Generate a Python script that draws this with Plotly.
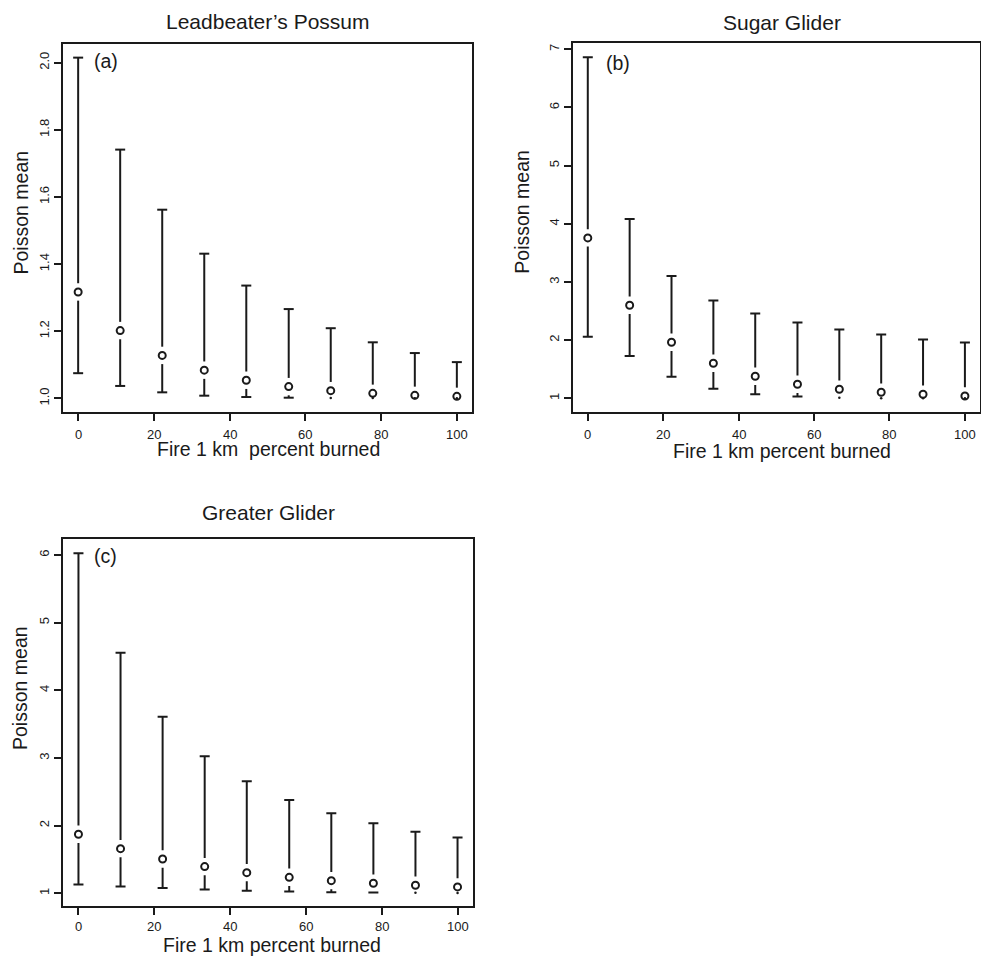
import plotly.graph_objects as go

W, H = 981, 964

# ---- data ----
x_burned = [0, 11.1, 22.2, 33.3, 44.4, 55.6, 66.7, 77.8, 88.9, 100]

lp_mean  = [1.317, 1.202, 1.128, 1.084, 1.054, 1.035, 1.023, 1.015, 1.009, 1.006]
lp_lower = [1.075, 1.037, 1.018, 1.008, 1.004, 1.002, 1.001, 1.001, 1.000, 1.000]
lp_upper = [2.015, 1.741, 1.562, 1.431, 1.336, 1.266, 1.209, 1.167, 1.135, 1.108]

sg_mean  = [3.757, 2.599, 1.963, 1.602, 1.378, 1.241, 1.155, 1.103, 1.069, 1.040]
sg_lower = [2.060, 1.728, 1.372, 1.166, 1.069, 1.029, 1.010, 1.002, 1.000, 0.999]
sg_upper = [6.862, 4.083, 3.103, 2.679, 2.456, 2.301, 2.181, 2.095, 2.009, 1.957]

gg_mean  = [1.872, 1.660, 1.507, 1.394, 1.305, 1.236, 1.187, 1.148, 1.118, 1.094]
gg_lower = [1.128, 1.100, 1.079, 1.056, 1.039, 1.027, 1.017, 1.012, 1.009, 1.005]
gg_upper = [6.025, 4.557, 3.611, 3.025, 2.655, 2.379, 2.182, 2.034, 1.911, 1.823]

titles = ["Leadbeater\u2019s Possum", "Sugar Glider", "Greater Glider"]
panel_tags = ["(a)", "(b)", "(c)"]
x_titles = ["Fire 1 km\u00a0 percent burned", "Fire 1 km percent burned", "Fire 1 km percent burned"]
y_title = "Poisson mean"
x_ticks = [0, 20, 40, 60, 80, 100]
y_ticks_a = [1.0, 1.2, 1.4, 1.6, 1.8, 2.0]
y_ticks_b = [1, 2, 3, 4, 5, 6, 7]
y_ticks_c = [1, 2, 3, 4, 5, 6]

# ---- layout geometry (pixels) ----
panels = [
    dict(mean=lp_mean, lo=lp_lower, up=lp_upper, box=(63, 472, 44, 412),
         yr=(0.9594, 2.0556), yt=y_ticks_a, fmt=".1f", xtl_y=434.7,
         title_xy=(268, 21.7), tag_xy=(105.5, 61), xt_xy=(268, 448.5), yt_xy=(20, 212.5)),
    dict(mean=sg_mean, lo=sg_lower, up=sg_upper, box=(572.7, 980, 43.3, 412.3),
         yr=(0.759, 7.103), yt=y_ticks_b, fmt="d", xtl_y=434.7,
         title_xy=(781.5, 22), tag_xy=(618, 63), xt_xy=(782, 450.5), yt_xy=(522, 211.7)),
    dict(mean=gg_mean, lo=gg_lower, up=gg_upper, box=(63.3, 472.7, 539.3, 906),
         yr=(0.812, 6.232), yt=y_ticks_c, fmt="d", xtl_y=926.7,
         title_xy=(268, 512.5), tag_xy=(105.5, 556), xt_xy=(271.5, 944.5), yt_xy=(20, 688)),
]

XR = (-4, 104)
GAP_PX = 8.7
CAP_PX = 5
INK = "#1a1a1a"
FONT = "Liberation Sans, Arial, sans-serif"

fig = go.Figure()
layout = dict(width=W, height=H, margin=dict(l=0, r=0, t=0, b=0),
              paper_bgcolor="white", plot_bgcolor="white", showlegend=False,
              font=dict(family=FONT, color=INK))
annotations = []

for i, p in enumerate(panels):
    sfx = "" if i == 0 else str(i + 1)
    xa, ya = "x" + sfx, "y" + sfx
    L, R, T, B = p["box"]
    pw, ph = R - L, B - T
    gap = GAP_PX * (p["yr"][1] - p["yr"][0]) / ph
    cw = CAP_PX * (XR[1] - XR[0]) / pw

    lx, ly, dx, dy = [], [], [], []
    for xi, m, lo, up in zip(x_burned, p["mean"], p["lo"], p["up"]):
        if up > m + gap:
            lx += [xi, xi, None, xi - cw, xi + cw, None]
            ly += [m + gap, up, None, up, up, None]
        if lo < m - gap:
            lx += [xi, xi, None, xi - cw, xi + cw, None]
            ly += [lo, m - gap, None, lo, lo, None]
        else:
            dx.append(xi); dy.append(lo)

    fig.add_trace(go.Scatter(x=lx, y=ly, mode="lines", xaxis=xa, yaxis=ya,
                             line=dict(color=INK, width=2), hoverinfo="skip"))
    fig.add_trace(go.Scatter(x=dx, y=dy, mode="markers", xaxis=xa, yaxis=ya,
                             marker=dict(color=INK, size=2.5), hoverinfo="skip"))
    fig.add_trace(go.Scatter(x=x_burned, y=p["mean"], mode="markers", xaxis=xa, yaxis=ya,
                             marker=dict(symbol="circle-open", size=7, color=INK,
                                         line=dict(width=2, color=INK))))

    axcommon = dict(showline=True, linecolor=INK, linewidth=2, mirror=True,
                    ticks="outside", ticklen=7, tickwidth=2, tickcolor=INK,
                    showgrid=False, zeroline=False,
                    tickfont=dict(family=FONT, size=13, color=INK))
    layout["xaxis" + sfx] = dict(axcommon, domain=[L / W, R / W], range=list(XR),
                                 tickmode="array", tickvals=x_ticks,
                                 showticklabels=False, anchor=ya)
    layout["yaxis" + sfx] = dict(axcommon, domain=[1 - B / H, 1 - T / H], range=list(p["yr"]),
                                 tickmode="array", tickvals=p["yt"], tickformat=p["fmt"],
                                 tickangle=-90, anchor=xa)

    # x tick labels, placed at the tick values of each x axis
    for t in x_ticks:
        annotations.append(dict(text=str(t), x=t, xref=xa, y=1 - p["xtl_y"] / H, yref="paper",
                                xanchor="center", yanchor="middle", showarrow=False,
                                font=dict(size=13, family=FONT, color=INK)))

    annotations.append(dict(text=titles[i], x=p["title_xy"][0] / W, y=1 - p["title_xy"][1] / H,
                            xref="paper", yref="paper", xanchor="center", yanchor="middle",
                            showarrow=False, font=dict(size=21, family=FONT, color=INK)))
    annotations.append(dict(text=panel_tags[i], x=p["tag_xy"][0] / W, y=1 - p["tag_xy"][1] / H,
                            xref="paper", yref="paper", xanchor="center", yanchor="middle",
                            showarrow=False, font=dict(size=19.5, family=FONT, color=INK)))
    annotations.append(dict(text=x_titles[i], x=p["xt_xy"][0] / W, y=1 - p["xt_xy"][1] / H,
                            xref="paper", yref="paper", xanchor="center", yanchor="middle",
                            showarrow=False, font=dict(size=19.5, family=FONT, color=INK)))
    annotations.append(dict(text=y_title, x=p["yt_xy"][0] / W, y=1 - p["yt_xy"][1] / H,
                            xref="paper", yref="paper", xanchor="center", yanchor="middle",
                            textangle=-90, showarrow=False,
                            font=dict(size=19.5, family=FONT, color=INK)))

layout["annotations"] = annotations
fig.update_layout(**layout)
fig.write_html("out.html", config={"displayModeBar": False},
               post_script="document.body.style.margin='0';document.body.style.overflow='hidden';")
